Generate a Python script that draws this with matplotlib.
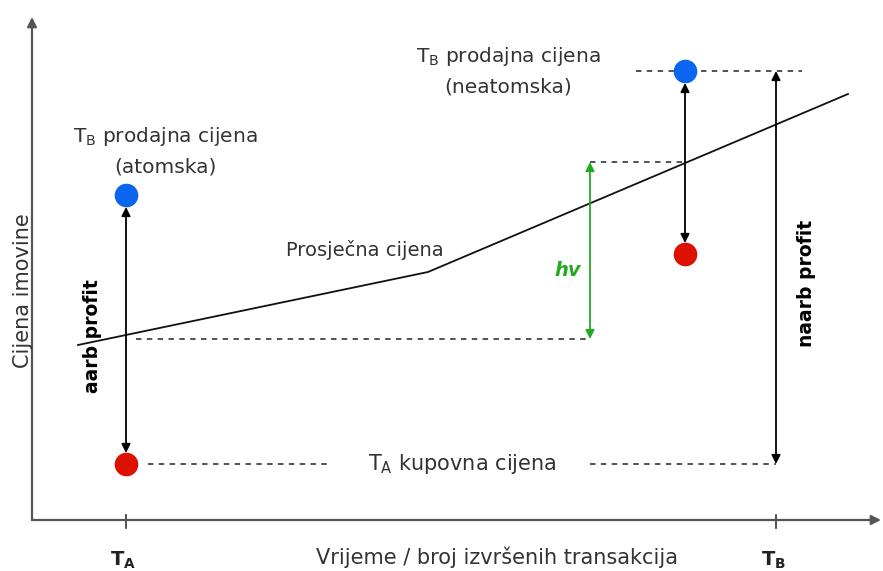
import matplotlib
matplotlib.use("Agg")
import matplotlib.pyplot as plt

plt.rcParams['font.family'] = ['DejaVu Sans']
plt.rcParams['mathtext.fontset'] = 'dejavusans'

# ---- data (conceptual units) ----
t_A = 94            # time of transaction A
t_B = 744           # time of transaction B
t_na = 653          # non-atomic sell time
t_hv = 558          # position of hv arrow
buy_price = 56      # T_A buy price
sell_atomic = 325   # T_B sell price (atomic)
sell_nonatomic = 449  # T_B sell price (non-atomic)
buy_nonatomic = 266   # red point at non-atomic time
avg_x = [46, 396, 816]
avg_y = [175, 248, 426]
avg_at_A = 181
avg_at_na = 358

tick_labels = ["T$_\\mathbf{A}$", "T$_\\mathbf{B}$"]
xlabel = "Vrijeme / broj izvršenih transakcija"
ylabel = "Cijena imovine"

W, H = 883, 571
fig = plt.figure(figsize=(W / 100, H / 100), dpi=100)
ax = fig.add_axes([0, 0, 1, 1])
ax.set_xlim(-32, W - 32)
ax.set_ylim(-51, 520)
ax.axis('off')

txt = '#333333'
axc = '#555555'
FS = 15

# axes arrows
ax.annotate('', xy=(0, 503), xytext=(0, 0),
            arrowprops=dict(arrowstyle='-|>', color=axc, lw=1.6, mutation_scale=14, shrinkA=0, shrinkB=0))
ax.annotate('', xy=(849, 0), xytext=(0, 0),
            arrowprops=dict(arrowstyle='-|>', color=axc, lw=1.6, mutation_scale=14, shrinkA=0, shrinkB=0))
for t, lab in zip([t_A, t_B], tick_labels):
    ax.plot([t, t], [-8, 5], color='#333333', lw=1.2)
    ax.text(t - 3, -46, lab, ha='center', va='baseline', fontsize=14, color='#222222',
            fontweight='bold')

ax.text(465, -37, xlabel, ha='center', va='center', fontsize=FS, color=txt)
ax.text(-9, 229, ylabel, ha='center', va='center', fontsize=FS, color=txt, rotation=90)

# average price line
ax.plot(avg_x, avg_y, color='#111111', lw=1.3)
ax.text(333, 270, "Prosječna cijena", ha='center', va='center', fontsize=14, color=txt)

dash = dict(color='#444444', lw=1.3, linestyle=(0, (3, 3)))
ax.plot([t_A + 10, t_hv], [avg_at_A, avg_at_A], **dash)
ax.plot([t_hv, t_na], [avg_at_na, avg_at_na], **dash)
ax.plot([604, 770], [sell_nonatomic, sell_nonatomic], **dash)
ax.plot([116, 300], [buy_price, buy_price], **dash)
ax.plot([558, t_B], [buy_price, buy_price], **dash)

ax.text(430, buy_price, "T$_\\mathrm{A}$ kupovna cijena", ha='center', va='center', fontsize=FS, color=txt)

arr = dict(arrowstyle='<|-|>', color='black', lw=1.3, mutation_scale=13, shrinkA=0, shrinkB=0)
# atomic arrow
ax.annotate('', xy=(t_A, sell_atomic - 12), xytext=(t_A, buy_price + 11), arrowprops=arr)
# non-atomic arrow
ax.annotate('', xy=(t_na, sell_nonatomic - 12), xytext=(t_na, buy_nonatomic + 11), arrowprops=arr)
# naarb arrow
ax.annotate('', xy=(t_B, sell_nonatomic), xytext=(t_B, buy_price), arrowprops=arr)
# hv arrow
arrg = dict(arr, color='#22aa22')
ax.annotate('', xy=(t_hv, avg_at_na), xytext=(t_hv, avg_at_A), arrowprops=arrg)
ax.text(536, 250, "hv", ha='center', va='center', fontsize=14, color='#22aa22',
        fontweight='bold', fontstyle='italic')

ax.text(61, 184, "aarb profit", ha='center', va='center', fontsize=13.5, color='black',
        fontweight='bold', rotation=90)
ax.text(774, 237, "naarb profit", ha='center', va='center', fontsize=13.5, color='black',
        fontweight='bold', rotation=90)

# points
blue = '#0a66ee'
red = '#dd1100'
ax.plot([t_A], [sell_atomic], 'o', color=blue, ms=17, mec='none')
ax.plot([t_na], [sell_nonatomic], 'o', color=blue, ms=17, mec='none')
ax.plot([t_A], [buy_price], 'o', color=red, ms=17, mec='none')
ax.plot([t_na], [buy_nonatomic], 'o', color=red, ms=17, mec='none')

ax.text(133, 369, "T$_\\mathrm{B}$ prodajna cijena\n(atomska)", ha='center', va='center',
        fontsize=14.5, color=txt, linespacing=1.6)
ax.text(476, 449, "T$_\\mathrm{B}$ prodajna cijena\n(neatomska)", ha='center', va='center',
        fontsize=14.5, color=txt, linespacing=1.6)

fig.savefig("out.png", dpi=100)
